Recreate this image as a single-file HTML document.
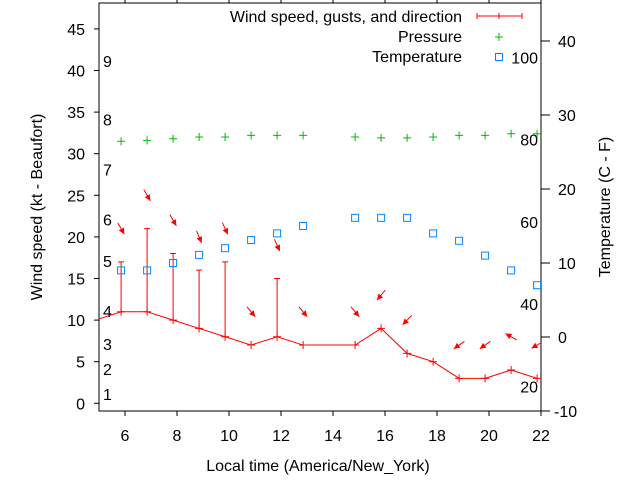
<!DOCTYPE html>
<html><head><meta charset="utf-8"><style>
body{margin:0;background:#fff;}
svg{display:block;font-family:"Liberation Sans",sans-serif;}
</style></head><body>
<svg id="chart" width="640" height="480" xmlns="http://www.w3.org/2000/svg">
</svg>
<script>
const hours = [4.85,5.85,6.85,7.85,8.85,9.85,10.85,11.85,12.85,14.85,15.85,16.85,17.85,18.85,19.85,20.85,21.85];
const windKt = [10,11,11,10,9,8,7,8,7,7,9,6,5,3,3,4,3];
const gustKt = [null,17,21,18,16,17,null,15,null,null,null,null,null,null,null,null,null];
const windDir = [null,330,330,330,337,335,320,335,320,320,40,45,null,55,55,120,60];
const pressure = [null,31.5,31.6,31.8,32,32,32.2,32.2,32.2,32,31.9,31.9,32,32.2,32.2,32.4,32.4];
const tempC = [null,9,9,10,11.1,12,13.1,14,15,16.1,16.1,16.1,14,13,11,9,7];
const xTicks = [6,8,10,12,14,16,18,20,22];
const yTicks = [0,5,10,15,20,25,30,35,40,45];
const y2Ticks = [-10,0,10,20,30,40];
const fTicks = [20,40,60,80,100];
const beaufort = [1,4,7,11,17,22,28,34,41];

const svg = document.getElementById('chart');
const NS = 'http://www.w3.org/2000/svg';
const L=99, R=541, T=3, B=411;
const FS=16;
const X = h => L + (h-5)*(R-L)/17;
const Y = k => 403.3 - k*8.32;
const Y2 = c => 337 - c*7.4;
function el(tag, attrs, parent){const e=document.createElementNS(NS,tag);for(const k in attrs)e.setAttribute(k,attrs[k]);(parent||svg).appendChild(e);return e;}
function txt(s,x,y,anchor,parent){const t=el('text',{x:x,y:y,'font-size':FS,'text-anchor':anchor||'start',fill:'#000'},parent);t.textContent=s;return t;}

const defs=el('defs',{});
const cp=el('clipPath',{id:'clip'},defs);
el('rect',{x:L,y:T,width:R-L,height:B-T},cp);

const axes=el('g',{});


el('rect',{x:L,y:T,width:R-L,height:B-T,fill:'none',stroke:'#000','stroke-width':1},axes);
xTicks.forEach(h=>{
  el('line',{x1:X(h),x2:X(h),y1:B,y2:B+5,stroke:'#000'},axes);
  el('line',{x1:X(h),x2:X(h),y1:T,y2:T-3,stroke:'#000'},axes);
  const t=txt(String(h),X(h),441,'middle',axes);
  
  
});
yTicks.forEach(v=>{
  el('line',{x1:L-5,x2:L,y1:Y(v),y2:Y(v),stroke:'#000'},axes);
  const t=txt(String(v),85,Y(v)+6,'end',axes);
  
  
});
y2Ticks.forEach(v=>{
  el('line',{x1:R,x2:R+9,y1:Y2(v),y2:Y2(v),stroke:'#000'},axes);
  const t=txt(String(v),v<0?554:558,Y2(v)+6,'start',axes);
  
  
});
fTicks.forEach(f=>{
  const t=txt(String(f),538,Y2((f-32)*5/9)+6,'end',axes);
  
  
});
beaufort.forEach((k,i)=>{
  const t=txt(String(i+1),103,Y(k)+5,'start',axes);
  
  
});
const xl=txt('Local time (America/New_York)',318,471,'middle');


const yl=txt('Wind speed (kt - Beaufort)',0,0,'middle');
yl.setAttribute('transform','translate(42,207) rotate(-90)');


const y2l=txt('Temperature (C - F)',0,0,'middle');
y2l.setAttribute('transform','translate(610,207) rotate(-90)');



const plot=el('g',{'clip-path':'url(#clip)'});



const pts=hours.map((h,i)=>X(h)+','+Y(windKt[i])).join(' ');
const wl=el('polyline',{points:pts,fill:'none',stroke:'#f00','stroke-width':1},plot);


hours.forEach((h,i)=>{
  const x=X(h),y=Y(windKt[i]);
  const p=el('path',{d:`M${x-4},${y}H${x+4}M${x},${y-4}V${y+4}`,stroke:'#f00'},plot);
  
  
  if(gustKt[i]!=null){
    const g=Y(gustKt[i]);
    const gb=el('path',{d:`M${x},${y}V${g}M${x-3},${g}H${x+3}`,stroke:'#f00'},plot);
    
    
  }
  if(windDir[i]!=null){
    const top=Math.max(windKt[i],gustKt[i]||0)+4;
    const cy=Y(top), cx=x;
    const r=windDir[i]*Math.PI/180, dx=-Math.sin(r), dy=Math.cos(r), len=13;
    const x1=cx-dx*len/2,y1=cy-dy*len/2,x2=cx+dx*len/2,y2=cy+dy*len/2;
    const ag=el('g',{},plot);
    
    
    el('line',{x1:x1,y1:y1,x2:x2,y2:y2,stroke:'#f00','stroke-width':1},ag);
    const px=-dy,py=dx;
    el('polygon',{points:`${x2},${y2} ${x2-dx*6+px*3},${y2-dy*6+py*3} ${x2-dx*6-px*3},${y2-dy*6-py*3}`,fill:'#f00'},ag);
  }
  if(pressure[i]!=null){
    const py2=Y(pressure[i]);
    const pp=el('path',{d:`M${x-4},${py2}H${x+4}M${x},${py2-4}V${py2+4}`,stroke:'#0b0'},plot);
    
    
  }
  if(tempC[i]!=null){
    const ty=Y2(tempC[i]);
    const tp=el('rect',{x:x-3.5,y:ty-3.5,width:7,height:7,fill:'none',stroke:'#08f'},plot);
    
    
  }
});

const lg=el('g',{});


txt('Wind speed, gusts, and direction',462,22,'end',lg);
el('path',{d:'M477,16H522M477,13V19M522,13V19M499,13V19',stroke:'#f00'},lg);
txt('Pressure',462,42,'end',lg);
el('path',{d:'M495,37H503M499,33V41',stroke:'#0b0'},lg);
txt('Temperature',462,62,'end',lg);
el('rect',{x:495.5,y:53.5,width:7,height:7,fill:'none',stroke:'#08f'},lg);
</script>
</body></html>
